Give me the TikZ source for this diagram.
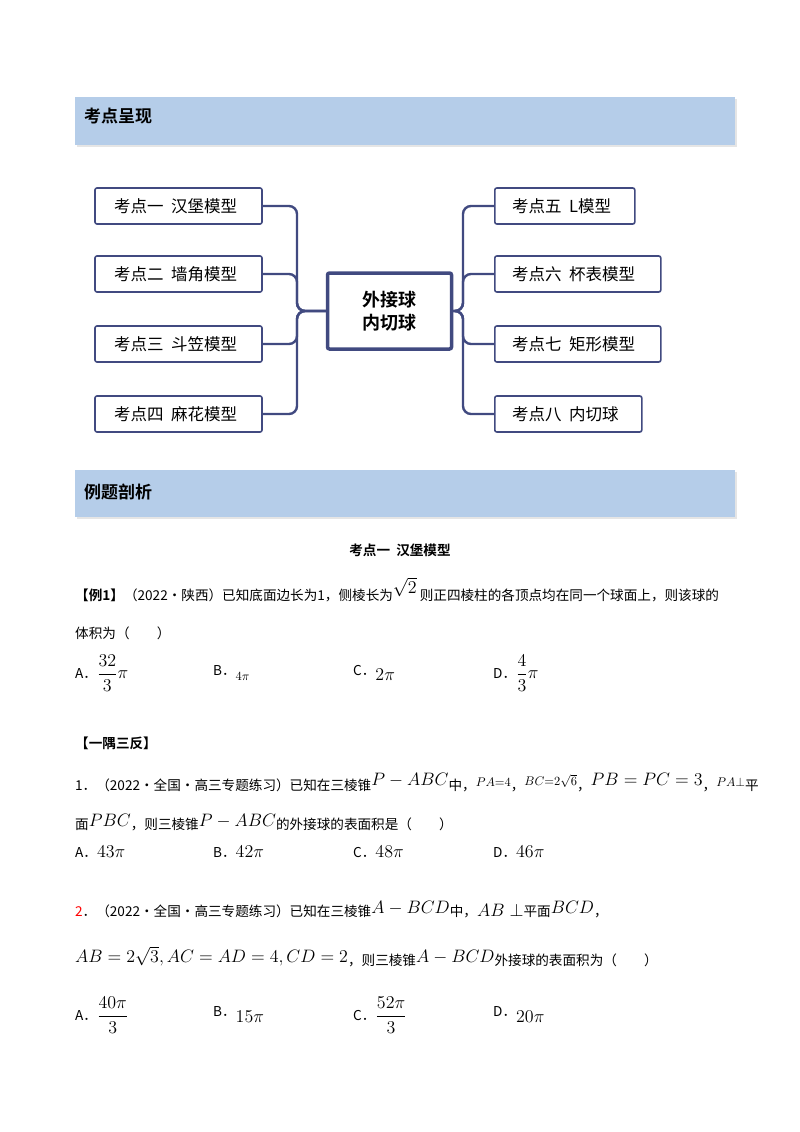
\documentclass[tikz,border=0pt]{standalone}
\usepackage{amsmath}
\usepackage{graphicx}
\usepackage{fontspec}
\setmainfont{Noto Sans CJK SC}
\newfontfamily\cjkb{Noto Sans CJK SC Bold}
\usetikzlibrary{shadows}
\definecolor{navy}{HTML}{414A80}
\definecolor{barblue}{HTML}{B5CDE9}
\newcommand{\Mth}[1]{\scalebox{1.25}{$#1$}}
\begin{document}
\begin{tikzpicture}[x=1pt,y=-1pt,
  bar/.style={fill=barblue,draw=none,drop shadow={shadow xshift=2pt,shadow yshift=-2pt,fill=gray!40}},
  topic/.style={draw=navy,line width=1.6pt,rounded corners=2pt,fill=white},
  conn/.style={draw=navy,line width=2.4pt,rounded corners=8pt},
  txt/.style={anchor=west,inner sep=0pt,font=\fontsize{13.6}{15}\selectfont},
  lbl/.style={anchor=west,inner sep=0pt,font=\fontsize{16.5}{18}\selectfont}]
\useasboundingbox (0,0) rectangle (800,1132);
% header bars
\path[bar] (75,97) rectangle (735,145);
\node[anchor=west,inner sep=0pt,font=\cjkb\fontsize{17}{19}\selectfont] (h1) at (84,116) {考点呈现};
\path[bar] (75,470) rectangle (735,517);
\node[anchor=west,inner sep=0pt,font=\cjkb\fontsize{17}{19}\selectfont] (h2) at (84,492) {例题剖析};
% mind map
\node[topic,line width=3.5pt,minimum width=124pt,minimum height=76pt,align=center,font=\cjkb\fontsize{18}{23}\selectfont] (c) at (389.5,311) {外接球\\内切球};
\foreach \n/\y/\t in {a/206/考点一\ \ 汉堡模型, b/274/考点二\ \ 墙角模型, d/344/考点三\ \ 斗笠模型, e/414/考点四\ \ 麻花模型}{
  \node[topic,minimum width=167pt,minimum height=36pt] (\n) at (178.5,\y) {};
  \node[lbl] at (114,\y) {\t};
  \draw[conn] (\n.east) -- (297,\y) -- (297,311) -- (c.west);
}
\foreach \n/\y/\w/\t in {f/206/140/考点五\ \ L模型, g/274/166/考点六\ \ 杯表模型, h/344/166/考点七\ \ 矩形模型, i/414/147/考点八\ \ 内切球}{
  \node[topic,minimum width=\w pt,minimum height=36pt,anchor=west] (\n) at (494,\y) {};
  \node[lbl] at (512,\y) {\t};
  \draw[conn] (\n.west) -- (463,\y) -- (463,311) -- (c.east);
}
% text
\node[inner sep=0pt,font=\cjkb\fontsize{13.6}{15}\selectfont] (t0) at (400,550) {考点一\ \ 汉堡模型};
\node[txt] (l1) at (75,590) {{\cjkb【例1】}（2022·陕西）已知底面边长为1，侧棱长为\raisebox{7pt}{\Mth{\sqrt{2}}}\ 则正四棱柱的各顶点均在同一个球面上，则该球的};
\node[txt] (l2) at (75,633) {体积为（\qquad ）};
\node[txt] (o1) at (75,673) {A．\Mth{\dfrac{32}{3}\pi}};
\node[txt] (o2) at (213,673) {B．\raisebox{-5pt}{\Mth{\scriptstyle 4\pi}}};
\node[txt] (o3) at (353,673) {C．\raisebox{-5pt}{\Mth{2\pi}}};
\node[txt] (o4) at (493,673) {D．\Mth{\dfrac{4}{3}\pi}};
\node[txt,font=\cjkb\fontsize{13.6}{15}\selectfont] (y) at (75,743) {【一隅三反】};
\node[txt] (m1) at (75,783) {1．（2022·全国·高三专题练习）已知在三棱锥\raisebox{5pt}{\Mth{P-ABC}}中，\raisebox{4pt}{\Mth{\scriptstyle PA=4}}，\raisebox{5pt}{\Mth{\scriptstyle BC=2\sqrt6}}，\raisebox{5pt}{\Mth{PB=PC=3}}，\raisebox{4pt}{\Mth{\scriptstyle PA\perp}}平};
\node[txt] (m2) at (75,823) {面\raisebox{3pt}{\Mth{PBC}}，则三棱锥\raisebox{3pt}{\Mth{P-ABC}}的外接球的表面积是（\qquad ）};
\node[txt] (p1) at (75,852) {A．\Mth{43\pi}};
\node[txt] (p2) at (213,852) {B．\Mth{42\pi}};
\node[txt] (p3) at (353,852) {C．\Mth{48\pi}};
\node[txt] (p4) at (493,852) {D．\Mth{46\pi}};
\node[txt] (n1) at (75,910) {\textcolor{red}{2}．（2022·全国·高三专题练习）已知在三棱锥\raisebox{3pt}{\Mth{A-BCD}}中，\Mth{AB\perp}平面\raisebox{3pt}{\Mth{BCD}}，};
\node[txt] (n2) at (75,957) {\raisebox{3pt}{\Mth{AB=2\sqrt3,AC=AD=4,CD=2}}，则三棱锥\raisebox{3pt}{\Mth{A-BCD}}外接球的表面积为（\qquad ）};
\node[txt] (q1) at (75,1015) {A．\Mth{\dfrac{40\pi}{3}}};
\node[txt] (q2) at (213,1015) {B．\raisebox{-6pt}{\Mth{15\pi}}};
\node[txt] (q3) at (353,1015) {C．\Mth{\dfrac{52\pi}{3}}};
\node[txt] (q4) at (493,1015) {D．\raisebox{-6pt}{\Mth{20\pi}}};
\end{tikzpicture}
\end{document}
